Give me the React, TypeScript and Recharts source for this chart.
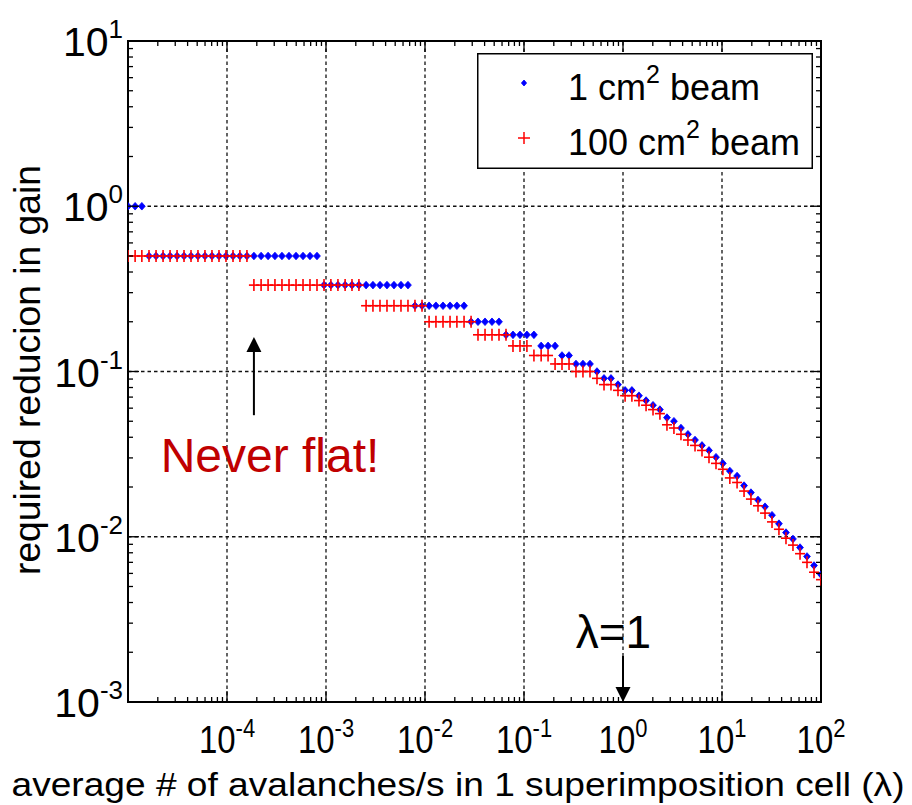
import React from 'react';
import { Legend, ReferenceArea, ReferenceDot, ReferenceLine, Scatter, ScatterChart, XAxis, YAxis } from 'recharts';

// lambda values (x), one per measured point
const lambdaValues = [
  1.0e-5, 1.18e-5, 1.38e-5, 1.63e-5, 1.92e-5, 2.26e-5, 2.66e-5, 3.13e-5, 3.68e-5, 4.33e-5,
  5.09e-5, 5.99e-5, 7.05e-5, 8.3e-5, 9.77e-5, 1.15e-4, 1.35e-4, 1.59e-4, 1.87e-4, 2.21e-4,
  2.6e-4, 3.05e-4, 3.59e-4, 4.23e-4, 4.98e-4, 5.86e-4, 6.89e-4, 8.11e-4, 9.55e-4, 1.12e-3,
  1.32e-3, 1.56e-3, 1.83e-3, 2.15e-3, 2.54e-3, 2.98e-3, 3.51e-3, 4.13e-3, 4.86e-3, 5.72e-3,
  6.73e-3, 7.92e-3, 9.33e-3, 1.1e-2, 1.29e-2, 1.52e-2, 1.79e-2, 2.1e-2, 2.48e-2, 2.92e-2,
  3.43e-2, 4.04e-2, 4.75e-2, 5.59e-2, 6.58e-2, 7.74e-2, 9.11e-2, 0.107, 0.126, 0.149,
  0.175, 0.206, 0.242, 0.285, 0.335, 0.394, 0.464, 0.546, 0.643, 0.756,
  0.89, 1.05, 1.23, 1.45, 1.71, 2.01, 2.36, 2.78, 3.27, 3.85,
  4.53, 5.34, 6.28, 7.39, 8.7, 10.2, 12.0, 14.2, 16.7, 19.6,
  23.1, 27.2, 32.0, 37.6, 44.3, 52.1, 61.4, 72.2, 85.0, 100,
];

const beam1Values = [
  1, 1, 1, 0.5, 0.5, 0.5, 0.5, 0.5, 0.5, 0.5,
  0.5, 0.5, 0.5, 0.5, 0.5, 0.5, 0.5, 0.5, 0.5, 0.5,
  0.5, 0.5, 0.5, 0.5, 0.5, 0.5, 0.5, 0.5, 0.3333, 0.3333,
  0.3333, 0.3333, 0.3333, 0.3333, 0.3333, 0.3333, 0.3333, 0.3333, 0.3333, 0.3333,
  0.3333, 0.25, 0.25, 0.25, 0.25, 0.25, 0.25, 0.25, 0.25, 0.2,
  0.2, 0.2, 0.2, 0.2, 0.1667, 0.1667, 0.1667, 0.1667, 0.1667, 0.1429,
  0.1429, 0.1429, 0.125, 0.125, 0.1111, 0.1111, 0.1111, 0.1, 0.0909, 0.0909,
  0.0833, 0.0769, 0.0769, 0.0714, 0.0667, 0.0625, 0.0588, 0.0526, 0.05, 0.0455,
  0.0417, 0.0385, 0.0357, 0.0333, 0.0303, 0.0278, 0.025, 0.0233, 0.0204, 0.0185,
  0.0167, 0.0152, 0.0135, 0.012, 0.0106, 0.0097, 0.0086, 0.0076, 0.0067, 0.0059,
];

const beam100Values = [
  0.5, 0.5, 0.5, 0.5, 0.5, 0.5, 0.5, 0.5, 0.5, 0.5,
  0.5, 0.5, 0.5, 0.5, 0.5, 0.5, 0.5, 0.5, 0.3333, 0.3333,
  0.3333, 0.3333, 0.3333, 0.3333, 0.3333, 0.3333, 0.3333, 0.3333, 0.3333, 0.3333,
  0.3333, 0.3333, 0.3333, 0.3333, 0.25, 0.25, 0.25, 0.25, 0.25, 0.25,
  0.25, 0.25, 0.25, 0.2, 0.2, 0.2, 0.2, 0.2, 0.2, 0.2,
  0.1667, 0.1667, 0.1667, 0.1667, 0.1667, 0.1429, 0.1429, 0.1429, 0.125, 0.125,
  0.125, 0.1111, 0.1111, 0.1111, 0.1, 0.1, 0.1, 0.0909, 0.0833, 0.0833,
  0.0769, 0.0714, 0.0714, 0.0667, 0.0625, 0.0588, 0.0556, 0.0476, 0.0455, 0.0417,
  0.0385, 0.0357, 0.0333, 0.0303, 0.0278, 0.0256, 0.0227, 0.0213, 0.0189, 0.0169,
  0.0154, 0.0139, 0.0123, 0.0111, 0.0098, 0.0089, 0.0079, 0.007, 0.0061, 0.0055,
];

const seriesNames = ['1 cm^2 beam', '100 cm^2 beam'];

const xDecades = [1e-5, 1e-4, 1e-3, 1e-2, 1e-1, 1, 10, 100];
const xLabelled = [1e-4, 1e-3, 1e-2, 1e-1, 1, 10, 100];
const xGridValues = [1e-4, 1e-3, 1e-2, 1e-1, 1, 10];
const yDecades = [1e-3, 1e-2, 1e-1, 1, 10];
const yGridValues = [1e-2, 1e-1, 1];
const minorFactors = [2, 3, 4, 5, 6, 7, 8, 9];

const FONT = '"Liberation Sans", Arial, Helvetica, sans-serif';
const WIDTH = 912;
const HEIGHT = 805;
const PLOT = { left: 128, top: 41, right: 821, bottom: 702 };
const Y_AXIS_W = 100;
const X_AXIS_H = 60;

function withMinors(decades: number[]) {
  return decades.flatMap((d, i) => (i < decades.length - 1 ? [d, ...minorFactors.map((m) => d * m)] : [d]));
}

const xTicks = withMinors(xDecades);
const yTicks = withMinors(yDecades);

const beam1Data = lambdaValues.map((x, i) => ({ x, y: beam1Values[i] }));
const beam100Data = lambdaValues.map((x, i) => ({ x, y: beam100Values[i] }));

function isDecade(v: number) {
  const e = Math.log10(v);
  return Math.abs(e - Math.round(e)) < 1e-6;
}

function XTick(props: any) {
  const v = props.payload.value as number;
  const x = props.payload.coordinate ?? props.x;
  const major = isDecade(v);
  const len = major ? 11 : 5;
  const showLabel = major && xLabelled.some((d) => Math.abs(d - v) / d < 1e-6);
  return (
    <g>
      <line x1={x} x2={x} y1={PLOT.bottom} y2={PLOT.bottom - len} stroke="#000" strokeWidth={1.3} />
      <line x1={x} x2={x} y1={PLOT.top} y2={PLOT.top + len} stroke="#000" strokeWidth={1.3} />
      {showLabel && (
        <text transform={`translate(${x}, 753) scale(1, 1.15)`} x={0} y={0} textAnchor="middle" fontFamily={FONT} fontSize={33} fill="#000">
          10
          <tspan fontSize={22} dy={-14}>
            {Math.round(Math.log10(v))}
          </tspan>
        </text>
      )}
    </g>
  );
}

function YTick(props: any) {
  const v = props.payload.value as number;
  const y = props.payload.coordinate ?? props.y;
  const major = isDecade(v);
  const len = major ? 11 : 5;
  return (
    <g>
      <line x1={PLOT.left} x2={PLOT.left + len} y1={y} y2={y} stroke="#000" strokeWidth={1.3} />
      <line x1={PLOT.right} x2={PLOT.right - len} y1={y} y2={y} stroke="#000" strokeWidth={1.3} />
      {major && (
        <text x={123} y={y + 15} textAnchor="end" fontFamily={FONT} fontSize={41} fill="#000">
          10
          <tspan fontSize={26} dy={-18}>
            {Math.round(Math.log10(v))}
          </tspan>
        </text>
      )}
    </g>
  );
}

function XTitle() {
  return (
    <text x={458} y={796} textAnchor="middle" fontFamily={FONT} fontSize={34} fill="#000" textLength={893} lengthAdjust="spacingAndGlyphs">
      average # of avalanches/s in 1 superimposition cell (λ)
    </text>
  );
}

function YTitle() {
  return (
    <text
      x={0}
      y={0}
      transform="translate(40, 370) rotate(-90)"
      textAnchor="middle"
      fontFamily={FONT}
      fontSize={36}
      fill="#000"
      textLength={410}
      lengthAdjust="spacingAndGlyphs"
    >
      required reducion in gain
    </text>
  );
}

function DotMarker(props: any) {
  const { cx, cy } = props;
  return <polygon points={`${cx},${cy - 3.8} ${cx + 3.4},${cy} ${cx},${cy + 3.8} ${cx - 3.4},${cy}`} fill="#0000ff" stroke="#0000ff" strokeWidth={0.8} strokeLinejoin="round" />;
}

function PlusMarker(props: any) {
  const { cx, cy } = props;
  return (
    <g stroke="#ff0000" strokeWidth={1.6}>
      <line x1={cx - 5} x2={cx + 5} y1={cy} y2={cy} />
      <line x1={cx} x2={cx} y1={cy - 6} y2={cy + 6} />
    </g>
  );
}

function LegendBox(props: any) {
  const payload = props.payload ?? [];
  return (
    <svg width={336} height={116} style={{ display: 'block' }}>
      <rect x={0.75} y={0.75} width={334.5} height={114.5} fill="#fff" stroke="#000" strokeWidth={1.5} />
      {payload.map((entry: any, i: number) => {
        const cy = 30 + i * 55;
        const [base, rest] = String(entry.value).split('^');
        return (
          <g key={entry.value}>
            {i === 0 ? (
              <polygon points={`47,${cy - 3} 49.6,${cy} 47,${cy + 3} 44.4,${cy}`} fill="#0000ff" stroke="#0000ff" strokeWidth={0.8} />
            ) : (
              <g stroke="#ff0000" strokeWidth={1.5}>
                <line x1={41} x2={53} y1={cy} y2={cy} />
                <line x1={47} x2={47} y1={cy - 6} y2={cy + 6} />
              </g>
            )}
            <text x={91} y={cy + 17} fontFamily={FONT} fontSize={36} fill="#000">
              {base}
              <tspan fontSize={25} dy={-17}>
                {rest.charAt(0)}
              </tspan>
              <tspan dy={17}>{rest.slice(1)}</tspan>
            </text>
          </g>
        );
      })}
    </svg>
  );
}

function ArrowShape(props: any) {
  const { x1, y1, x2, y2 } = props;
  const dir = y2 > y1 ? 1 : -1;
  const headLen = 15;
  const headHalf = 7.5;
  return (
    <g>
      <line x1={x1} y1={y1} x2={x2} y2={y2 - dir * headLen} stroke="#000" strokeWidth={2} />
      <polygon points={`${x2},${y2} ${x2 - headHalf},${y2 - dir * headLen} ${x2 + headHalf},${y2 - dir * headLen}`} fill="#000" />
    </g>
  );
}

function NeverFlatText(props: any) {
  return (
    <text x={props.cx} y={props.cy} textAnchor="middle" fontFamily={FONT} fontSize={48} fill="#c00000">
      Never flat!
    </text>
  );
}

function LambdaText(props: any) {
  return (
    <text x={props.cx} y={props.cy} textAnchor="middle" fontFamily={FONT} fontSize={46} fill="#000">
      λ=1
    </text>
  );
}

export default function App() {
  return (
    <div style={{ position: 'absolute', left: 0, top: 0, width: WIDTH, height: HEIGHT, background: '#fff' }}>
      <ScatterChart
        width={WIDTH}
        height={HEIGHT}
        margin={{ top: PLOT.top, right: WIDTH - PLOT.right, bottom: HEIGHT - PLOT.bottom - X_AXIS_H, left: PLOT.left - Y_AXIS_W }}
      >
        <XAxis
          dataKey="x"
          type="number"
          scale="log"
          domain={[1e-5, 100]}
          allowDataOverflow
          ticks={xTicks}
          interval={0}
          height={X_AXIS_H}
          axisLine={false}
          tickLine={false}
          tick={<XTick />}
          label={<XTitle />}
        />
        <YAxis
          dataKey="y"
          type="number"
          scale="log"
          domain={[1e-3, 10]}
          allowDataOverflow
          ticks={yTicks}
          interval={0}
          width={Y_AXIS_W}
          axisLine={false}
          tickLine={false}
          tick={<YTick />}
          label={<YTitle />}
        />
        {xGridValues.map((v) => (
          <ReferenceLine key={`gx${v}`} x={v} stroke="#111" strokeWidth={1.3} strokeDasharray="3.5 3" />
        ))}
        {yGridValues.map((v) => (
          <ReferenceLine key={`gy${v}`} y={v} stroke="#111" strokeWidth={1.3} strokeDasharray="3.5 3" />
        ))}
        <ReferenceArea x1={1e-5} x2={100} y1={1e-3} y2={10} fill="none" stroke="#000" strokeWidth={2} fillOpacity={0} />
        <Scatter name={seriesNames[0]} data={beam1Data} fill="#0000ff" shape={<DotMarker />} isAnimationActive={false} />
        <Scatter name={seriesNames[1]} data={beam100Data} fill="#ff0000" shape={<PlusMarker />} isAnimationActive={false} />
        <ReferenceLine
          segment={[
            { x: 1.87e-4, y: 0.0544 },
            { x: 1.87e-4, y: 0.162 },
          ]}
          shape={<ArrowShape />}
        />
        <ReferenceLine
          segment={[
            { x: 1, y: 1.9e-3 },
            { x: 1, y: 1e-3 },
          ]}
          shape={<ArrowShape />}
        />
        <ReferenceDot x={2.72e-4} y={0.0247} r={1} shape={<NeverFlatText />} />
        <ReferenceDot x={0.8} y={2.11e-3} r={1} shape={<LambdaText />} />
        <Legend
          layout="vertical"
          align="center"
          verticalAlign="middle"
          wrapperStyle={{ left: 477, top: 53, width: 336, height: 116 }}
          content={<LegendBox />}
        />
      </ScatterChart>
    </div>
  );
}
